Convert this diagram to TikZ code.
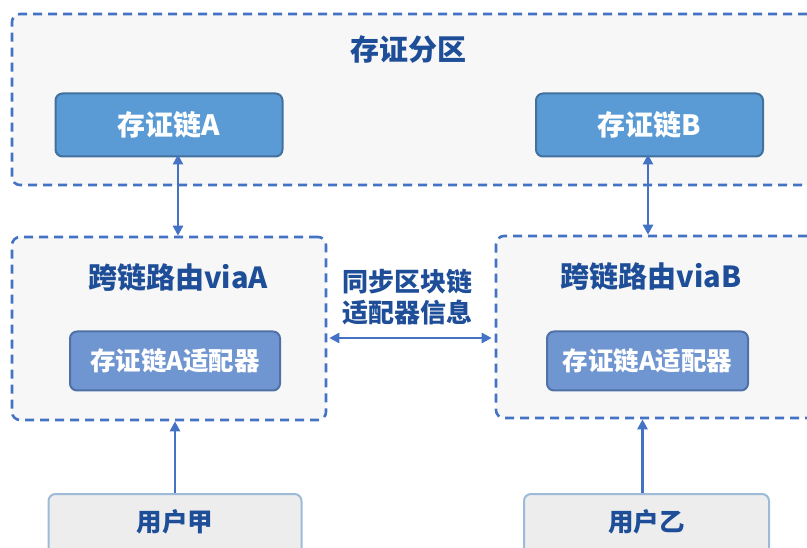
\documentclass[tikz,border=0pt]{standalone}
\usepackage{fontspec}
\newfontfamily\cjk{Noto Sans CJK SC}
\usetikzlibrary{arrows.meta}
\definecolor{dashblue}{HTML}{4472C4}
\definecolor{partfill}{HTML}{F7F7F7}
\definecolor{chainfill}{HTML}{5B9BD5}
\definecolor{chainedge}{HTML}{41719C}
\definecolor{adfill}{HTML}{7096D1}
\definecolor{adedge}{HTML}{4F71A6}
\definecolor{titleblue}{HTML}{1F4E99}
\definecolor{userfill}{HTML}{EDEDED}
\definecolor{useredge}{HTML}{9DBBD9}
\tikzset{
  partbox/.style={draw=dashblue, fill=partfill, line width=2.6pt, dash pattern=on 9pt off 6pt, rounded corners=8pt, rectangle, inner sep=0pt},
  chainbox/.style={draw=chainedge, fill=chainfill, line width=2pt, rounded corners=7pt, rectangle, inner sep=0pt, text=white, font=\cjk\bfseries\fontsize{28}{32}\selectfont},
  adbox/.style={draw=adedge, fill=adfill, line width=2pt, rounded corners=7pt, rectangle, inner sep=0pt, text=white, font=\cjk\bfseries\fontsize{25.5}{30}\selectfont},
  userbox/.style={draw=useredge, fill=userfill, line width=2pt, rounded corners=7pt, rectangle, inner sep=0pt},
  usertext/.style={text=titleblue, inner sep=0pt, font=\cjk\bfseries\fontsize{25.5}{30}\selectfont},
  titletext/.style={text=titleblue, inner sep=0pt, font=\cjk\bfseries\fontsize{29}{33}\selectfont},
  synctext/.style={text=titleblue, inner sep=0pt, align=center, font=\cjk\bfseries\fontsize{26}{31}\selectfont},
  conn/.style={draw=dashblue, line width=2.5pt, {Triangle[length=10pt,width=10pt]}-{Triangle[length=10pt,width=10pt]}},
  upconn/.style={draw=dashblue, line width=2.5pt, -{Triangle[length=10pt,width=10pt]}}
}
\begin{document}
\begin{tikzpicture}[x=1pt,y=-1pt]
\useasboundingbox (0,0) rectangle (807,548);
\clip (0,0) rectangle (807,548);
% containers
\node[partbox, minimum width=818pt, minimum height=171pt] (part) at (421,99.5) {};
\node[partbox, minimum width=314pt, minimum height=183pt] (viaA) at (169,328.5) {};
\node[partbox, minimum width=334pt, minimum height=182pt] (viaB) at (663,327) {};
% titles
\node[titletext] (ptitle) at (408,50) {存证分区};
\node[titletext] (titleA) at (178,278) {跨链路由viaA};
\node[titletext] (titleB) at (651,277) {跨链路由viaB};
% inner boxes
\node[chainbox, minimum width=227pt, minimum height=63pt] (chainA) at (169,125) {存证链A};
\node[chainbox, minimum width=227pt, minimum height=63pt] (chainB) at (649.5,125) {存证链B};
\node[adbox, minimum width=210pt, minimum height=59pt] (adA) at (175,361) {存证链A适配器};
\node[adbox, minimum width=201pt, minimum height=59pt] (adB) at (647.5,361) {存证链A适配器};
% users
\node[userbox, minimum width=253pt, minimum height=72pt] (userA) at (175,530) {};
\node[userbox, minimum width=245pt, minimum height=72pt] (userB) at (646.5,530) {};
\node[usertext] (userAt) at (175,522) {用户甲};
\node[usertext] (userBt) at (646.5,522) {用户乙};
% sync label
\node[synctext] (sync) at (407,297) {同步区块链\\适配器信息};
\coordinate (midy) at (407,338);
% connectors
\draw[conn] ([yshift=3pt]titleA |- chainA.south) -- (titleA |- viaA.north);
\draw[conn] ([xshift=-3pt,yshift=3pt]titleB |- chainB.south) -- ([xshift=-3pt]titleB |- viaB.north);
\draw[conn] ([xshift=2pt]midy -| viaA.east) -- ([xshift=-3pt]midy -| viaB.west);
\draw[upconn] (userAt |- userA.north) -- (userAt |- viaA.south);
\draw[upconn] ([xshift=-4pt]userB.north) -- ([xshift=-4pt]userB.north |- viaB.south);
\end{tikzpicture}
\end{document}
